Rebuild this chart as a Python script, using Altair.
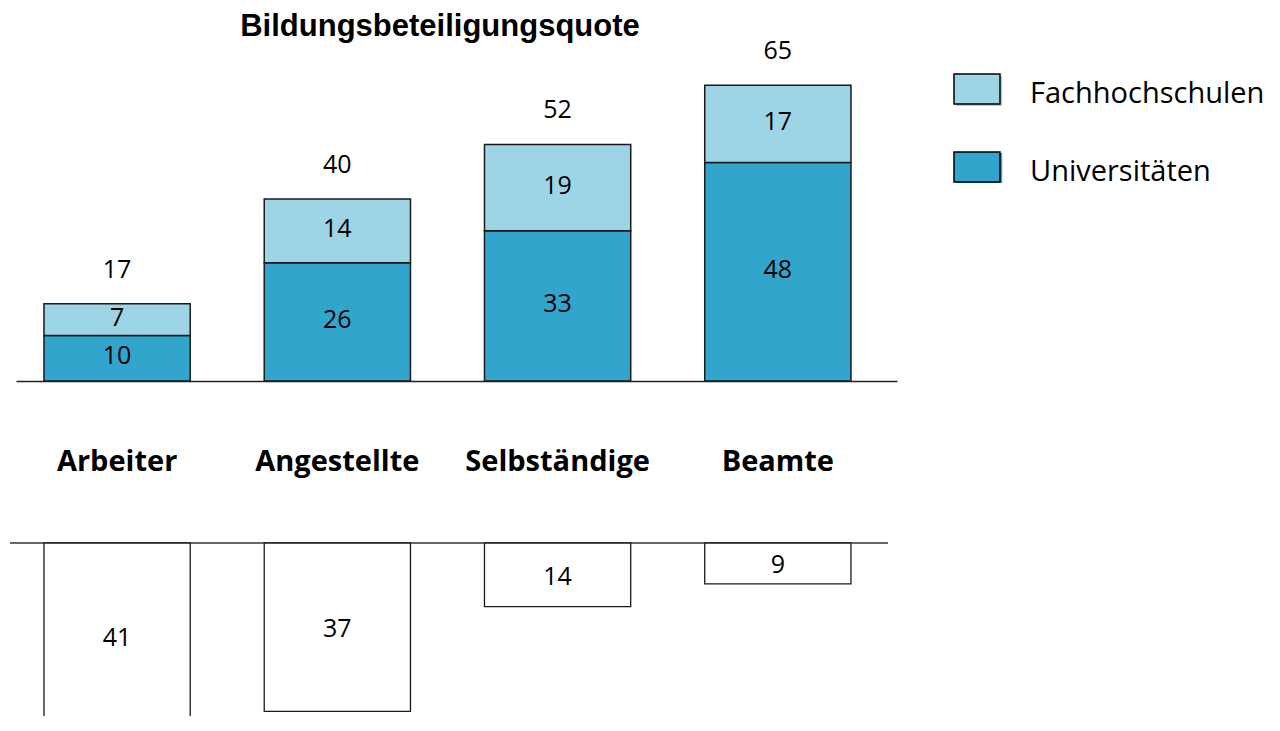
import altair as alt
import pandas as pd

# ---- data ----
categories = ["Arbeiter", "Angestellte", "Selbständige", "Beamte"]
universitaeten = [10, 26, 33, 48]
fachhochschulen = [7, 14, 19, 17]
totals = [17, 40, 52, 65]
lower_values = [41, 37, 14, 9]
series_names = ["Fachhochschulen", "Universitäten"]
series_colors = ["#9dd4e6", "#32a5cc"]
title_text = "Bildungsbeteiligungsquote"

# ---- tables built from the arrays ----
rows = []
for c, u, f in zip(categories, universitaeten, fachhochschulen):
    rows.append({"cat": c, "series": "Universitäten", "val": u, "y0": 0, "y1": u, "mid": u / 2})
    rows.append({"cat": c, "series": "Fachhochschulen", "val": f, "y0": u, "y1": u + f, "mid": u + f / 2})
df_top = pd.DataFrame(rows)
# separate key for the swatch-shadow legend (kept distinct so legends are not merged)
shadow_names = [n + " (Schatten)" for n in series_names]
df_top["shadow"] = df_top["series"] + " (Schatten)"
df_tot = pd.DataFrame({"cat": categories, "total": totals})
df_low = pd.DataFrame({"cat": categories, "val": lower_values,
                       "mid": [v / 2 for v in lower_values]})
df_zero = pd.DataFrame({"z": [0]})
df_title = pd.DataFrame({"t": [title_text]})

W, H = 881, 708
NUM_FONT = "Open Sans"
NUM_SIZE = 25
BOX_PATH = "M-1,-0.87L1,-0.87L1,0.43L-1,0.43Z"
SHADOW_PATH = "M1,-0.74L1.14,-0.74L1.14,0.57L-0.86,0.57L-0.86,0.43L1,0.43Z"

x_enc = alt.X(
    "cat:N", sort=categories,
    scale=alt.Scale(paddingInner=0.336, paddingOuter=0.168, align=0.378),
    axis=alt.Axis(title=None, orient="bottom", offset=-335, domain=True,
                  domainColor="#222222", domainWidth=1.3, ticks=False,
                  labelAngle=0, labelPadding=66, labelFont="Open Sans",
                  labelFontWeight="bold", labelFontSize=29, labelColor="black",
                  labelLimit=0),
)

top_scale = alt.Scale(domain=[-73.63, 81.98], nice=False, zero=False)
low_scale = alt.Scale(domain=[-117.58, 38.02], nice=False, zero=False, reverse=True)

legend_common = dict(
    orient="none", legendX=937, legendY=62, title=None,
    symbolSize=2116, labelFont="Open Sans", labelFontSize=29,
    labelOffset=29, rowPadding=39, padding=0, labelLimit=0,
)

# hidden duplicate bars (covered by the real ones) whose legend gives the swatch shadow
shadow_bars = alt.Chart(df_top).mark_bar().encode(
    x=x_enc,
    y=alt.Y("y1:Q", scale=top_scale, axis=None),
    y2="y0:Q",
    fill=alt.Fill(
        "shadow:N",
        scale=alt.Scale(domain=shadow_names, range=series_colors),
        legend=alt.Legend(symbolType=SHADOW_PATH, symbolStrokeWidth=0,
                          labelExpr="''", **legend_common),
    ),
)

top_bars = alt.Chart(df_top).mark_bar(stroke="#1a1a1a", strokeWidth=1.5).encode(
    x=x_enc,
    y=alt.Y("y1:Q", scale=top_scale, axis=None),
    y2="y0:Q",
    color=alt.Color(
        "series:N",
        scale=alt.Scale(domain=series_names, range=series_colors),
        legend=alt.Legend(symbolType=BOX_PATH, symbolStrokeColor="black",
                          symbolStrokeWidth=1.5, labelColor="black",
                          **legend_common),
    ),
)

top_seg_text = alt.Chart(df_top).mark_text(
    font=NUM_FONT, fontSize=NUM_SIZE, color="black", baseline="middle", dy=-2
).encode(
    x=x_enc,
    y=alt.Y("mid:Q", scale=top_scale, axis=None),
    text="val:Q",
)

top_tot_text = alt.Chart(df_tot).mark_text(
    font=NUM_FONT, fontSize=NUM_SIZE, color="black", baseline="middle", dy=-34
).encode(
    x=x_enc,
    y=alt.Y("total:Q", scale=top_scale, axis=None),
    text="total:Q",
)

title_mark = alt.Chart(df_title).mark_text(
    font="Liberation Sans", fontWeight="bold", fontSize=31, color="black",
    align="center", baseline="middle"
).encode(text="t:N", x=alt.value(424), y=alt.value(19))

low_rule = alt.Chart(df_zero).mark_rule(color="#333333", strokeWidth=1.3).encode(
    y=alt.Y("z:Q", scale=low_scale, axis=None),
    x=alt.value(-6), x2=alt.value(872),
)

low_bars = alt.Chart(df_low).mark_bar(fill="white", stroke="#1a1a1a", strokeWidth=1.3).encode(
    x=x_enc,
    y=alt.Y("val:Q", scale=low_scale, axis=None),
    y2=alt.datum(0),
)

low_text = alt.Chart(df_low).mark_text(
    font=NUM_FONT, fontSize=NUM_SIZE, color="black", baseline="middle", dy=2
).encode(
    x=x_enc,
    y=alt.Y("mid:Q", scale=low_scale, axis=None),
    text="val:Q",
)

top = alt.layer(shadow_bars, top_bars, top_seg_text, top_tot_text, title_mark)
bottom = alt.layer(low_rule, low_bars, low_text)

chart = alt.layer(top, bottom).resolve_scale(y="independent").properties(
    width=W, height=H,
    autosize=alt.AutoSizeParams(type="none"),
    padding={"left": 8, "top": 0, "right": 375, "bottom": 0},
    background="white",
).configure_view(stroke=None)

chart.save("out.html", embed_options={"renderer": "svg", "actions": False})
